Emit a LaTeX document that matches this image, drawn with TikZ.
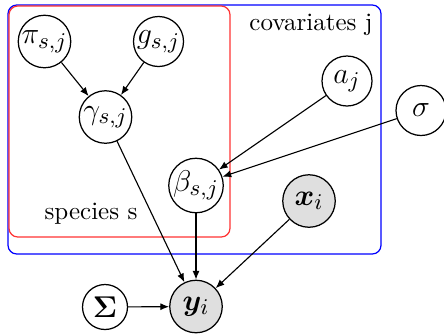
\documentclass[tikz,border=0pt]{standalone}
\usepackage{amsmath,bm}
\usetikzlibrary{arrows.meta}
\begin{document}
\begin{tikzpicture}[x=0.4pt,y=-0.4pt,
  latent/.style={circle,draw,line width=0.5pt,inner sep=0pt,minimum size=20pt,font=\fontsize{12.5}{14}\selectfont},
  obs/.style={latent,fill=gray!25},
  edge/.style={-{Latex[length=3.5pt,width=2.8pt]},line width=0.45pt},
  plate/.style={rounded corners=3.5pt,line width=0.5pt}]
\useasboundingbox (0,0) rectangle (444,334);
% plates
\draw[plate,blue] (8,5) rectangle (381,254);
\draw[plate,red!80] (9,6) rectangle (230,237);
\node[anchor=east,inner sep=0pt] (cov) at (373,25) {covariates j};
\node[inner sep=0pt] (spec) at (91,214) {species s};
% variables
\node[latent,minimum size=21pt] (pi) at (44.5,41.5) {$\pi_{s,j}$};
\node[latent] (g) at (158.5,41.5) {$g_{s,j}$};
\node[latent,minimum size=21pt] (gam) at (105.5,117) {$\gamma_{s,j}$};
\node[latent] (a) at (347,81) {$a_j$};
\node[latent] (sig) at (421,110.5) {$\sigma$};
\node[latent,minimum size=19.5pt] (beta) at (196,185.5) {$\beta_{s,j}$};
\node[obs,minimum size=21pt] (x) at (309,201) {$\bm{x}_i$};
\node[obs,minimum size=21pt] (y) at (196,306.5) {$\bm{y}_i$};
\node[latent,minimum size=18pt] (S) at (105,307) {$\bm{\Sigma}$};
% dependencies
\draw[edge] (pi) -- (gam);
\draw[edge] (g) -- (gam);
\draw[edge] (a) -- (beta);
\draw[edge] (sig) -- (beta);
\draw[edge] (gam) -- (y);
\draw[edge] (beta) -- (y);
\draw[edge] (x) -- (y);
\draw[edge] (S) -- (y);
\end{tikzpicture}
\end{document}
